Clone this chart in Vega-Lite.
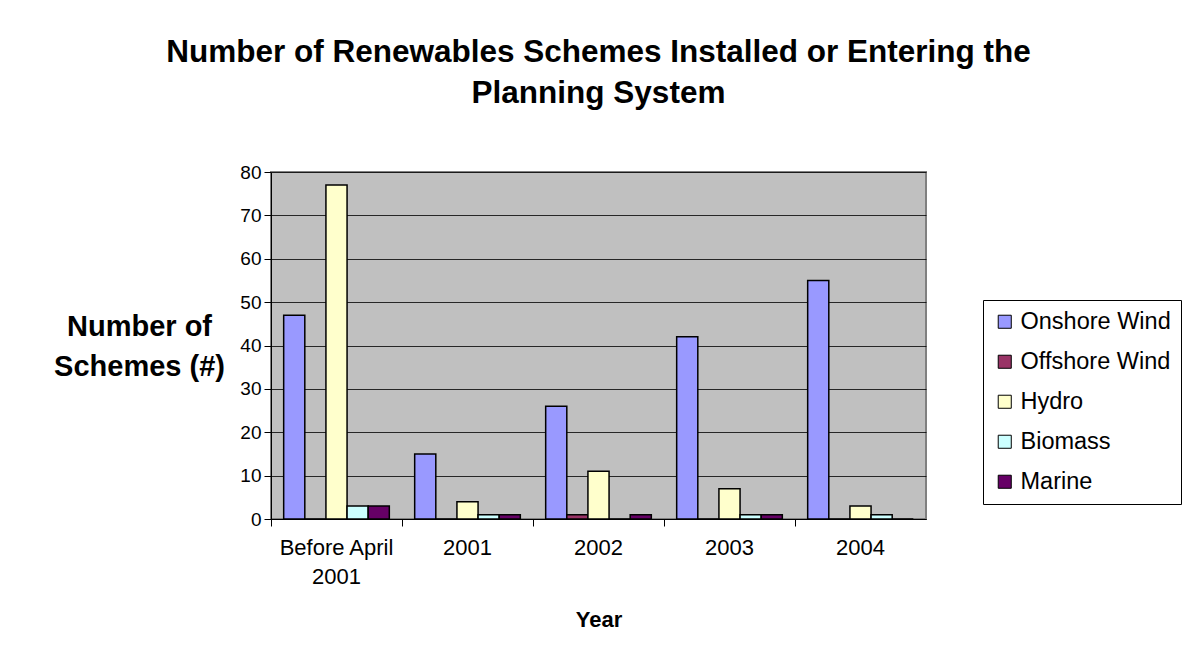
{
  "$schema": "https://vega.github.io/schema/vega-lite/v6.json",
  "width": 655,
  "height": 347,
  "autosize": {"type": "none"},
  "padding": {"left": 271, "top": 172, "right": 260, "bottom": 150},
  "background": "white",
  "title": {
    "text": ["Number of Renewables Schemes Installed or Entering the", "Planning System"],
    "font": "Liberation Sans",
    "fontSize": 31.5,
    "fontWeight": "bold",
    "lineHeight": 41,
    "anchor": "middle",
    "offset": 54,
    "color": "black"
  },
  "config": {
    "font": "Liberation Sans",
    "view": {"fill": "#C0C0C0", "stroke": "#808080", "strokeWidth": 2}
  },
  "data": {
    "values": [
      {"year": "Before April 2001", "type": "Onshore Wind", "n": 47},
      {"year": "Before April 2001", "type": "Offshore Wind", "n": 0},
      {"year": "Before April 2001", "type": "Hydro", "n": 77},
      {"year": "Before April 2001", "type": "Biomass", "n": 3},
      {"year": "Before April 2001", "type": "Marine", "n": 3},
      {"year": "2001", "type": "Onshore Wind", "n": 15},
      {"year": "2001", "type": "Offshore Wind", "n": 0},
      {"year": "2001", "type": "Hydro", "n": 4},
      {"year": "2001", "type": "Biomass", "n": 1},
      {"year": "2001", "type": "Marine", "n": 1},
      {"year": "2002", "type": "Onshore Wind", "n": 26},
      {"year": "2002", "type": "Offshore Wind", "n": 1},
      {"year": "2002", "type": "Hydro", "n": 11},
      {"year": "2002", "type": "Biomass", "n": 0},
      {"year": "2002", "type": "Marine", "n": 1},
      {"year": "2003", "type": "Onshore Wind", "n": 42},
      {"year": "2003", "type": "Offshore Wind", "n": 0},
      {"year": "2003", "type": "Hydro", "n": 7},
      {"year": "2003", "type": "Biomass", "n": 1},
      {"year": "2003", "type": "Marine", "n": 1},
      {"year": "2004", "type": "Onshore Wind", "n": 55},
      {"year": "2004", "type": "Offshore Wind", "n": 0},
      {"year": "2004", "type": "Hydro", "n": 3},
      {"year": "2004", "type": "Biomass", "n": 1},
      {"year": "2004", "type": "Marine", "n": 0}
    ]
  },
  "mark": {"type": "bar", "stroke": "black", "strokeWidth": 1.5},
  "encoding": {
    "x": {
      "field": "year",
      "type": "nominal",
      "sort": ["Before April 2001", "2001", "2002", "2003", "2004"],
      "scale": {"paddingInner": 0, "paddingOuter": 0},
      "axis": {
        "title": "Year",
        "titleFontSize": 22,
        "titleFontWeight": "bold",
        "titleColor": "black",
        "titleY": 100,
        "titleBaseline": "middle",
        "labelAngle": 0,
        "labelFontSize": 22,
        "labelColor": "black",
        "labelLineHeight": 29,
        "labelPadding": 11,
        "labelExpr": "datum.label == 'Before April 2001' ? ['Before April', '2001'] : datum.label",
        "bandPosition": 0,
        "tickSize": 7,
        "tickColor": "black",
        "domainColor": "black",
        "domainWidth": 1
      }
    },
    "xOffset": {
      "field": "type",
      "type": "nominal",
      "sort": ["Onshore Wind", "Offshore Wind", "Hydro", "Biomass", "Marine"],
      "scale": {"paddingInner": 0, "paddingOuter": 0.6}
    },
    "y": {
      "field": "n",
      "type": "quantitative",
      "scale": {"domain": [0, 80], "nice": false},
      "axis": {
        "title": ["Number of", "Schemes (#)"],
        "titleAngle": 0,
        "titleAlign": "center",
        "titleBaseline": "middle",
        "titleX": -132,
        "titleY": 154,
        "titleFontSize": 29,
        "titleFontWeight": "bold",
        "titleLineHeight": 40,
        "titleColor": "black",
        "values": [0, 10, 20, 30, 40, 50, 60, 70, 80],
        "labelFontSize": 19,
        "labelColor": "black",
        "labelPadding": 3,
        "tickSize": 7,
        "tickColor": "black",
        "domainColor": "black",
        "gridColor": "black",
        "gridWidth": 1,
        "gridOpacity": 0.8
      }
    },
    "color": {
      "field": "type",
      "type": "nominal",
      "scale": {
        "domain": ["Onshore Wind", "Offshore Wind", "Hydro", "Biomass", "Marine"],
        "range": ["#9999FF", "#993366", "#FFFFCC", "#CCFFFF", "#660066"]
      },
      "legend": {
        "title": null,
        "orient": "none",
        "legendX": 712,
        "legendY": 128,
        "strokeColor": "black",
        "fillColor": "white",
        "padding": 10,
        "symbolType": "square",
        "symbolSize": 170,
        "symbolStrokeColor": "black",
        "symbolStrokeWidth": 1,
        "symbolOpacity": 1,
        "labelFontSize": 23.5,
        "labelColor": "black",
        "labelOffset": 4,
        "rowPadding": 15,
        "labelLimit": 300
      }
    }
  }
}
